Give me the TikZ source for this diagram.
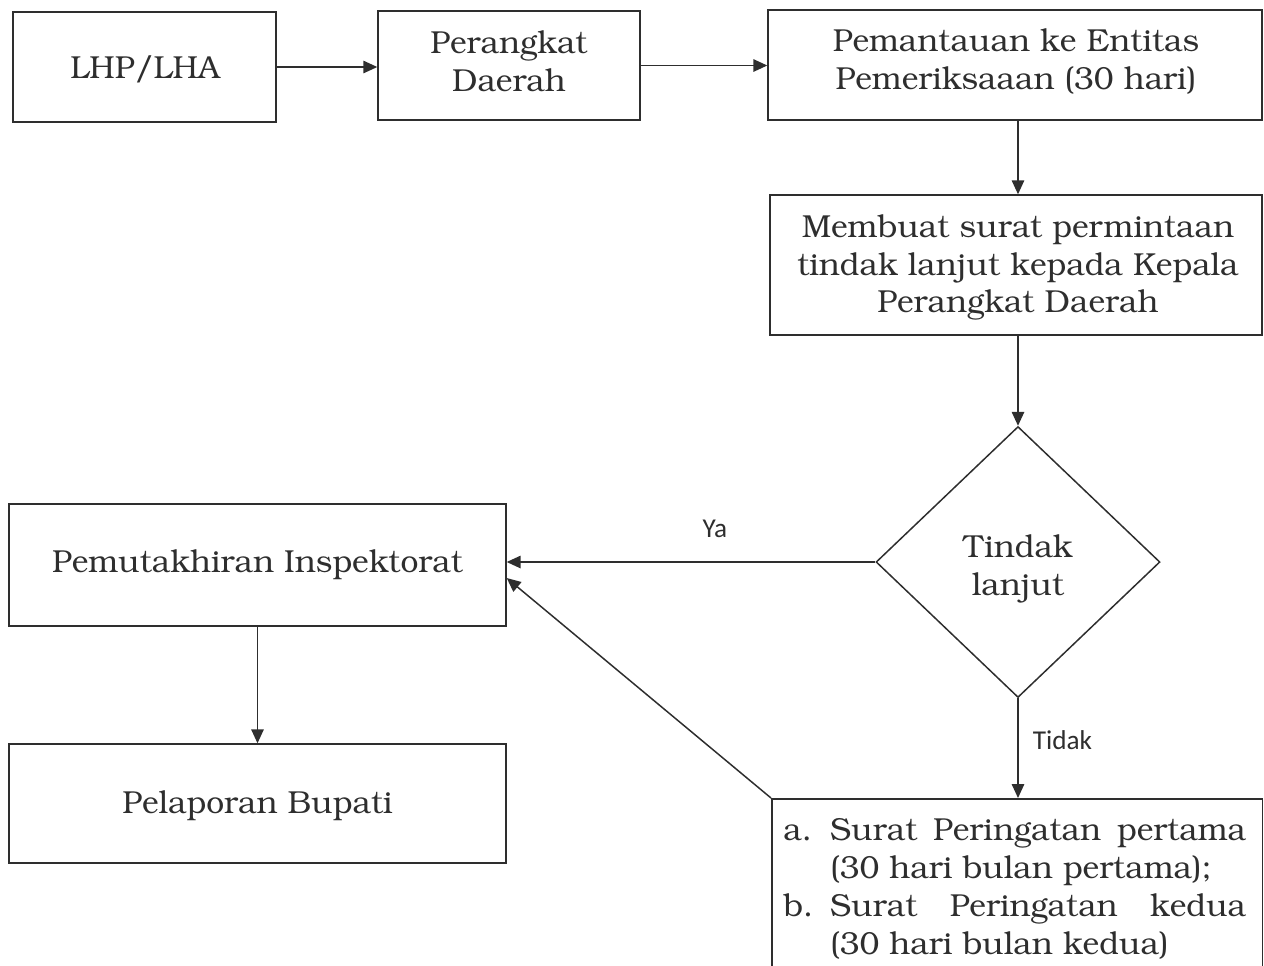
\documentclass[tikz,border=0pt]{standalone}
\usepackage[T1]{fontenc}
\usepackage{fontspec}
\newfontfamily\lbl{Carlito}
\usetikzlibrary{arrows.meta,shapes.geometric,calc}
\newcommand\bk{\fontencoding{T1}\fontfamily{pbk}\fontseries{m}\fontshape{n}\fontsize{18.1}{21.5}\selectfont}
\definecolor{ink}{HTML}{2E2E2E}
\tikzset{
  box/.style={draw=ink, line width=0.85pt, text=ink, font=\bk, align=center, inner sep=0pt},
  txt/.style={text=ink, font=\bk, align=center, inner sep=0pt},
  conn/.style={draw=ink, line width=0.85pt, -{Triangle[length=0.28cm,width=0.25cm]}},
  lab/.style={text=ink, font=\lbl\fontsize{15.5}{18}\selectfont, inner sep=0pt},
}
\begin{document}
\begin{tikzpicture}[x=0.02cm,y=-0.02cm]
\useasboundingbox (0,0) rectangle (1264,965);
\clip (0,0) rectangle (1264,965);
\node[box, minimum width=5.26cm, minimum height=2.2cm] (lhp) at (144.5,67) {};
\node[txt] (lhpt) at (145,70) {LHP/LHA};
\node[box, minimum width=5.24cm, minimum height=2.18cm] (per) at (509,65.5) {};
\node[txt] (pert) at (509,61.5) {Perangkat\\Daerah};
\node[box, minimum width=9.88cm, minimum height=2.2cm] (pem) at (1015,65) {};
\node[txt] (pemt) at (1016,62) {Pemantauan ke Entitas\\Pemeriksaaan (30 hari)};
\node[box, minimum width=9.84cm, minimum height=2.8cm] (mem) at (1016,265) {};
\node[txt] (memt) at (1018,268) {Membuat surat permintaan\\tindak lanjut kepada Kepala\\Perangkat Daerah};
\node[box, diamond, minimum width=5.68cm, minimum height=5.42cm] (dia) at (1018,562) {};
\node[txt] (diat) at (1018,569) {Tindak\\lanjut};
\node[box, minimum width=9.94cm, minimum height=2.44cm] (put) at (257.5,565) {Pemutakhiran Inspektorat};
\node[box, minimum width=9.94cm, minimum height=2.38cm] (lap) at (257.5,803.5) {};
\node[txt] (lapt) at (257.5,806) {Pelaporan Bupati};
\node[box, anchor=north west, minimum width=9.82cm, minimum height=4.2cm] (sur) at (771,798) {};
\node[txt, align=left, anchor=north west] (surt) at (783,814)
 {\begin{tabular}{@{}l@{\hspace{0.34cm}}l@{}}
 a. & \makebox[8.32cm][s]{Surat Peringatan pertama}\\
    & (30 hari bulan pertama);\\
 b. & \makebox[8.32cm][s]{Surat Peringatan kedua}\\
    & (30 hari bulan kedua)
 \end{tabular}};
\draw[conn] (lhp.east) -- (per.west |- lhp.east);
\draw[conn] (per.east) -- (pem.west |- per.east);
\draw[conn] (pem.south -| dia.north) -- (mem.north -| dia.north);
\draw[conn] (mem.south -| dia.north) -- (dia.north);
\draw[conn] (dia.west) -- (put.east |- dia.west) node[lab, pos=0.435, above=0.48cm] (ya) {Ya};
\draw[conn] (dia.south) -- (dia.south |- sur.north) node[lab, pos=0.42, right=0.28cm] (td) {Tidak};
\draw[conn] (sur.north west) -- ($(put.east)+(0,13)$);
\draw[conn] (put.south) -- (lap.north);
\end{tikzpicture}
\end{document}
